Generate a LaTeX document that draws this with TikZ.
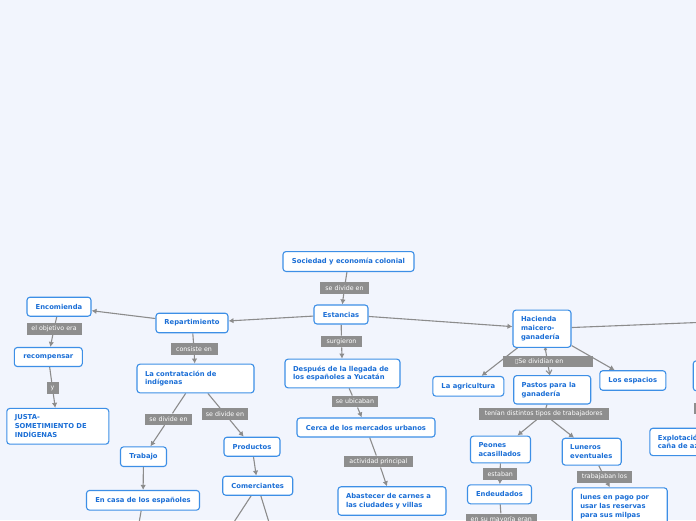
\documentclass[tikz,border=0pt]{standalone}
\usepackage{fontspec}
\setmainfont{DejaVu Sans}
\usetikzlibrary{arrows.meta,backgrounds}
\definecolor{bgblue}{HTML}{F2F5FD}
\definecolor{boxblue}{HTML}{3D8FE6}
\definecolor{txtblue}{HTML}{1A6ED6}
\definecolor{taggray}{HTML}{8E8E8E}
\definecolor{linegray}{HTML}{8C8C8C}
\tikzset{
  topic/.style={draw=boxblue, line width=1.1pt, fill=white, rounded corners=3pt,
    text=txtblue, font=\fontsize{6.8}{8.8}\selectfont\bfseries,
    inner xsep=8pt, inner ysep=6.5pt, minimum height=19pt},
  tag/.style={fill=taggray, text=white, font=\fontsize{6.3}{7}\selectfont,
    inner xsep=3.5pt, inner ysep=0pt, minimum height=11.5pt},
  line/.style={draw=linegray, line width=1.1pt},
  link/.style={line, -{Latex[length=5pt,width=5.5pt]}}
}
\begin{document}
\begin{tikzpicture}[x=1pt,y=-1pt]
  \useasboundingbox (0,0) rectangle (696,520);
  \begin{pgfonlayer}{background}
    \fill[bgblue] (0,0) rectangle (696,520);
  \end{pgfonlayer}
  \clip (0,0) rectangle (696,520);

  \node[topic, minimum width=131pt] (soc) at (348.5,261.5) {Sociedad y economía colonial};
  \node[tag, minimum width=49pt] (tsoc) at (344.5,288) {se divide en};
  \node[topic, minimum width=54pt] (est) at (341,314.5) {Estancias};
  \node[tag, minimum width=41pt] (tsurg) at (341.5,341.5) {surgieron};
  \node[topic, text width=99pt, align=left] (desp) at (342.5,373.5) {Después de la llegada de\\los españoles a Yucatán};
  \node[tag, minimum width=46pt] (tubic) at (355,401.5) {se ubicaban};
  \node[topic, minimum width=138pt] (cerca) at (366,427.5) {Cerca de los mercados urbanos};
  \node[tag, minimum width=69pt] (tact) at (378.5,461.5) {actividad principal};
  \node[topic, text width=92pt, align=left] (abast) at (392,501) {Abastecer de carnes a\\las ciudades y villas};

  \node[topic, minimum width=72pt] (rep) at (192,323) {Repartimiento};
  \node[topic, minimum width=64pt] (enc) at (59,306.7) {Encomienda};
  \node[tag, minimum width=55pt] (tobj) at (54,329) {el objetivo era};
  \node[topic, minimum width=68pt] (recomp) at (48.3,357) {recompensar};
  \node[tag, minimum width=12pt] (ty) at (52.5,388) {y};
  \node[topic, text width=86pt, align=left] (justa) at (57.8,426.3) {JUSTA-\\SOMETIMIENTO DE\\INDÍGENAS};
  \node[tag, minimum width=47pt] (tcons) at (194,349) {consiste en};
  \node[topic, text width=101pt, align=left] (contr) at (195.5,378.5) {La contratación de\\indígenas};
  \node[tag, minimum width=47pt] (tdiv1) at (168.5,419.3) {se divide en};
  \node[tag, minimum width=46pt] (tdiv2) at (225,414) {se divide en};
  \node[topic, minimum width=46pt] (trab) at (143.5,456.7) {Trabajo};
  \node[topic, minimum width=56pt] (prod) at (252,446.7) {Productos};
  \node[topic, minimum width=70pt] (com) at (257.7,485.7) {Comerciantes};
  \node[topic, minimum width=113pt] (casa) at (143,500.3) {En casa de los españoles};
  \coordinate (comA) at (219,545);
  \coordinate (comB) at (276,545);
  \coordinate (casaS) at (136,540);

  \node[topic, text width=42pt, align=left] (hac) at (542,328.7) {Hacienda\\maicero-\\ganadería};
  \coordinate (hacR) at (760,320);
  \node[tag, text width=83pt, align=left] (tsediv) at (547.5,361.7) {\hspace*{9pt}▯Se dividían en};
  \node[topic, minimum width=71pt] (agri) at (468.3,386.3) {La agricultura};
  \node[topic, text width=61pt, align=left] (pastos) at (552.2,389.8) {Pastos para la\\ganadería};
  \node[topic, minimum width=66pt] (esp) at (632.8,380.5) {Los espacios};
  \node[topic, minimum width=60pt, minimum height=30pt, anchor=west] (rnode) at (692.7,375.8) {};
  \node[tag, minimum width=40pt, anchor=north west] (trr) at (693.7,402.7) {};
  \node[topic, text width=70pt, align=left, anchor=north west] (explot) at (649.3,427.7) {Explotación de\\caña de azúcar};
  \node[tag, minimum width=129.7pt] (tten) at (543.8,413.8) {tenían distintos tipos de trabajadores};
  \node[topic, text width=44pt, align=left] (peon) at (500.5,449.5) {Peones\\acasillados};
  \node[topic, text width=43pt, align=left] (lun) at (591.7,451.7) {Luneros\\eventuales};
  \node[tag, minimum width=34pt] (test) at (500.2,474.2) {estaban};
  \node[tag, minimum width=55pt] (ttrab) at (604.5,477) {trabajaban los};
  \node[topic, minimum width=64pt] (endeu) at (499.5,494.3) {Endeudados};
  \node[topic, text width=79pt, align=left, anchor=north west] (lunes) at (571.7,487.3) {lunes en pago por\\usar las reservas\\para sus milpas};
  \node[tag, minimum width=71pt, anchor=north] (tmay) at (501.3,513.3) {en su mayoría eran};

  \begin{pgfonlayer}{background}
    \begin{scope}
      \clip (0,0) rectangle (696,520);
      \draw[link] (soc) -- (tsoc) -- (est);
      \draw[link] (est) -- (rep);
      \draw[link] (est) -- (hac);
      \draw[link] (rep) -- (enc);
      \draw[link] (enc) -- (tobj) -- (recomp);
      \draw[link] (recomp) -- (ty) -- (justa);
      \draw[link] (rep) -- (tcons) -- (contr);
      \draw[link] (contr) -- (tdiv1) -- (trab);
      \draw[link] (contr) -- (tdiv2) -- (prod);
      \draw[link] (trab) -- (casa);
      \draw[link] (prod) -- (com);
      \draw[line] (com) -- (comA);
      \draw[line] (com) -- (comB);
      \draw[line] (casa) -- (casaS);
      \draw[link] (est) -- (tsurg) -- (desp);
      \draw[link] (desp) -- (tubic) -- (cerca);
      \draw[link] (cerca) -- (tact) -- (abast);
      \draw[line] (hac) -- (hacR);
      \draw[link] (hac) -- (agri);
      \draw[link] (hac) -- (esp);
      \draw[line, {Circle[length=3pt]}-{Straight Barb[length=4pt,width=6pt]}] (hac) -- (pastos);
      \draw[line] (pastos) -- (tten);
      \draw[link] (tten) -- (peon);
      \draw[link] (tten) -- (lun);
      \draw[link] (peon) -- (test) -- (endeu);
      \draw[link] (lun) -- (ttrab) -- (lunes);
      \draw[line] (endeu) -- (tmay);
    \end{scope}
  \end{pgfonlayer}
\end{tikzpicture}
\end{document}
